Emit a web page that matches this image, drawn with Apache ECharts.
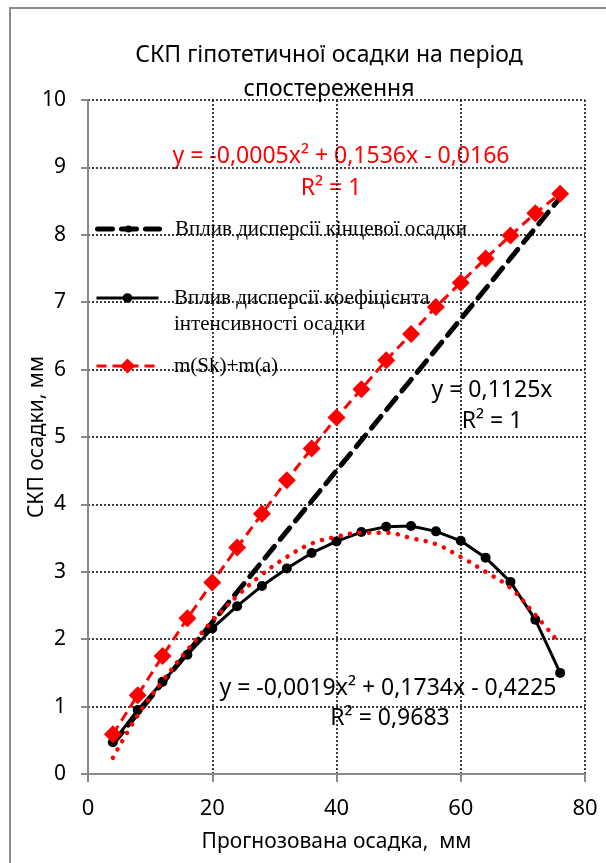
<!DOCTYPE html>
<html>
<head>
<meta charset="utf-8">
<script src="https://cdn.jsdelivr.net/npm/echarts@6/dist/echarts.min.js"></script>
<style>
  html, body { margin: 0; padding: 0; background: #fff; }
  #chart { width: 606px; height: 863px; }
</style>
</head>
<body>
<div id="chart"></div>
<script>
// прогнозована осадка, мм
var xValues = [4, 8, 12, 16, 20, 24, 28, 32, 36, 40, 44, 48, 52, 56, 60, 64, 68, 72, 76];
// вплив дисперсії кінцевої осадки
var finalSettle = [0.45, 0.9, 1.35, 1.8, 2.25, 2.7, 3.15, 3.6, 4.05, 4.5, 4.95, 5.4, 5.85, 6.3, 6.75, 7.2, 7.65, 8.1, 8.55];
// вплив дисперсії коефіцієнта інтенсивності осадки
var intensity = [0.47, 0.95, 1.37, 1.77, 2.16, 2.49, 2.79, 3.05, 3.28, 3.45, 3.59, 3.67, 3.68, 3.6, 3.46, 3.21, 2.85, 2.29, 1.5];
// m(Sk)+m(a)
var total = [0.59, 1.17, 1.75, 2.31, 2.84, 3.36, 3.86, 4.36, 4.83, 5.29, 5.71, 6.14, 6.53, 6.93, 7.29, 7.65, 7.99, 8.32, 8.61];
// поліноміальний тренд (червоний пунктир)
var trend = [0.24, 0.87, 1.38, 1.84, 2.27, 2.64, 2.96, 3.22, 3.42, 3.52, 3.58, 3.58, 3.5, 3.41, 3.22, 3.0, 2.76, 2.36, 1.93];

var seriesNames = [
    'Вплив дисперсії кінцевої осадки',
    'Вплив дисперсії коефіцієнта\nінтенсивності осадки',
    'm(Sk)+m(a)'
];

function pairs(ys) {
    var res = [];
    for (var i = 0; i < xValues.length; i++) {
        res.push([xValues[i], ys[i]]);
    }
    return res;
}

var sans = '"Noto Sans", "Open Sans", sans-serif';
var serif = '"Liberation Serif", "DejaVu Serif", serif';

var myChart = echarts.init(document.getElementById('chart'));

var legendText = { color: '#000', fontFamily: serif, fontSize: 21, lineHeight: 26 };
// відступ тексту легенди від значка
var gapText = function (name) {
    return name.split('\n').map(function (s) { return '  ' + s; }).join('\n');
};

var option = {
    backgroundColor: '#fff',
    animation: false,
    title: {
        text: 'СКП гіпотетичної осадки на період\nспостереження',
        left: 324,
        top: 33,
        textAlign: 'center',
        textStyle: { color: '#000', fontFamily: sans, fontSize: 23, fontWeight: 'normal', lineHeight: 34 }
    },
    grid: { left: 88, right: 21, top: 100, bottom: 89 },
    legend: [
        {
            data: [seriesNames[0]], orient: 'vertical', left: 95, top: 216, padding: 0,
            itemWidth: 62, itemHeight: 9, textStyle: legendText, selectedMode: false,
            lineStyle: { width: 5 },
            formatter: gapText
        },
        {
            data: [seriesNames[1]], orient: 'vertical', left: 95, top: 259, padding: 0,
            itemWidth: 62, itemHeight: 12, textStyle: legendText, selectedMode: false,
            lineStyle: { width: 3 },
            formatter: function (name) { return ' \n' + gapText(name); }
        },
        {
            data: [seriesNames[2]], orient: 'vertical', left: 95, top: 353, padding: 0,
            itemWidth: 62, itemHeight: 19, textStyle: legendText, selectedMode: false,
            lineStyle: { width: 3 },
            formatter: gapText
        }
    ],
    xAxis: {
        type: 'value', min: 0, max: 80, interval: 20,
        name: 'Прогнозована осадка,  мм',
        nameLocation: 'middle', nameGap: 58,
        nameMoveOverlap: false,
        nameTextStyle: { color: '#000', fontFamily: sans, fontSize: 21 },
        axisLine: { lineStyle: { color: '#898989', width: 2 } },
        axisTick: { show: true, length: 8, lineStyle: { color: '#898989', width: 2 } },
        axisLabel: { color: '#000', fontFamily: sans, fontSize: 22, margin: 24 },
        splitLine: { show: true, lineStyle: { color: '#000', type: [2, 2], width: 1.5 } }
    },
    yAxis: {
        type: 'value', min: 0, max: 10, interval: 1,
        name: 'СКП осадки, мм',
        nameLocation: 'middle', nameGap: 40,
        nameMoveOverlap: false,
        nameTextStyle: { color: '#000', fontFamily: sans, fontSize: 21 },
        axisLine: { show: true, lineStyle: { color: '#898989', width: 2 } },
        axisTick: { show: true, length: 7, lineStyle: { color: '#898989', width: 2 } },
        axisLabel: { color: '#000', fontFamily: sans, fontSize: 21, margin: 22 },
        splitLine: { show: true, lineStyle: { color: '#000', type: [2, 2], width: 1.5 } }
    },
    series: [
        {
            name: seriesNames[0],
            type: 'line',
            data: pairs(finalSettle),
            symbol: 'none',
            lineStyle: { color: '#000', width: 5, type: [15, 9], cap: 'round' },
            itemStyle: { color: '#000' },
            z: 2
        },
        {
            name: seriesNames[1],
            type: 'line',
            data: pairs(intensity),
            symbol: 'circle',
            symbolSize: 10,
            lineStyle: { color: '#000', width: 3 },
            itemStyle: { color: '#000' },
            z: 3
        },
        {
            name: seriesNames[2],
            type: 'line',
            data: pairs(total),
            symbol: 'diamond',
            symbolSize: 18,
            lineStyle: { color: '#ff0000', width: 3, type: [10, 6] },
            itemStyle: { color: '#ff0000' },
            z: 4
        },
        {
            name: 'тренд',
            type: 'line',
            data: pairs(trend),
            smooth: 0.4,
            symbol: 'none',
            lineStyle: { color: '#ff0000', width: 4.5, type: [0.1, 9.5], cap: 'round' },
            z: 5,
            silent: true
        }
    ],
    graphic: [
        {
            type: 'rect', silent: true, z: -1,
            shape: { x: 10, y: 8, width: 620, height: 900 },
            style: { fill: 'none', stroke: '#8c8c8c', lineWidth: 2 }
        },
        {
            type: 'text', x: 341, y: 156, silent: true,
            style: { text: 'y = -0,0005x² + 0,1536x - 0,0166', fill: '#ff0000', font: '23px ' + sans, align: 'center', verticalAlign: 'middle' }
        },
        {
            type: 'text', x: 331, y: 188, silent: true,
            style: { text: 'R² = 1', fill: '#ff0000', font: '23px ' + sans, align: 'center', verticalAlign: 'middle' }
        },
        {
            type: 'text', x: 492, y: 390, silent: true,
            style: { text: 'y = 0,1125x', fill: '#000', font: '23px ' + sans, align: 'center', verticalAlign: 'middle' }
        },
        {
            type: 'text', x: 492, y: 421, silent: true,
            style: { text: 'R² = 1', fill: '#000', font: '23px ' + sans, align: 'center', verticalAlign: 'middle' }
        },
        {
            type: 'text', x: 388, y: 688, silent: true,
            style: { text: 'y = -0,0019x² + 0,1734x - 0,4225', fill: '#000', font: '23px ' + sans, align: 'center', verticalAlign: 'middle' }
        },
        {
            type: 'text', x: 390, y: 718, silent: true,
            style: { text: 'R² = 0,9683', fill: '#000', font: '23px ' + sans, align: 'center', verticalAlign: 'middle' }
        }
    ]
};

myChart.setOption(option);
window.addEventListener('resize', function () {
    myChart.resize();
});
</script>
</body>
</html>
